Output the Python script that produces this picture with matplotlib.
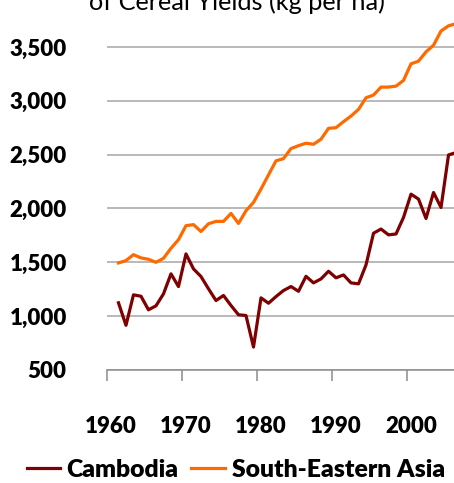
import numpy as np
import matplotlib.pyplot as plt
from matplotlib.ticker import FuncFormatter

# Cereal yields (kg per ha)
years = list(range(1961, 2007))
cambodia = [1124, 915, 1198, 1185, 1059, 1096, 1207, 1393, 1275, 1578,
            1439, 1368, 1254, 1145, 1192, 1099, 1013, 1006, 713, 1170,
            1120, 1182, 1238, 1275, 1231, 1370, 1309, 1346, 1417, 1356,
            1383, 1309, 1300, 1476, 1770, 1809, 1755, 1763, 1917, 2133,
            2087, 1907, 2148, 2009, 2497, 2519]
se_asia = [1494, 1516, 1571, 1541, 1528, 1500, 1537, 1630, 1710, 1840,
           1850, 1786, 1858, 1880, 1880, 1954, 1861, 1979, 2056, 2180,
           2312, 2442, 2463, 2556, 2583, 2606, 2596, 2643, 2744, 2750,
           2806, 2858, 2920, 3028, 3053, 3127, 3127, 3136, 3189, 3343,
           3368, 3454, 3516, 3648, 3696, 3716]
year_labels = [1960, 1970, 1980, 1990, 2000]
y_ticks = [500, 1000, 1500, 2000, 2500, 3000, 3500]

plt.rcParams['font.family'] = ['Lato', 'DejaVu Sans']

fig = plt.figure(figsize=(4.54, 4.83), dpi=100)
ax = fig.add_axes([107/454, 1 - 370/483, 1 - 107/454, (370 - 20)/483])

ax.plot(years, cambodia, color='#7f0000', lw=2.3, label='Cambodia')
ax.plot(years, se_asia, color='#ff6a00', lw=2.3, label='South-Eastern Asia')

ax.set_ylim(500, 3750)
ax.set_xlim(1959.47, 2005.73)
ax.set_yticks(y_ticks)
ax.yaxis.set_major_formatter(FuncFormatter(lambda v, p: f'{int(v):,}'))
ax.tick_params(axis='y', length=0, pad=29, labelsize=16)
for lab in ax.get_yticklabels():
    lab.set_fontweight('heavy')
ax.grid(axis='y', color='#a6a6a6', lw=1.1)
ax.set_axisbelow(True)

# tick marks sit between categories, labels at the years
ax.set_xticks([y - 0.53 for y in year_labels])
ax.set_xticklabels([])
ax.set_xticks(year_labels, minor=True)
ax.set_xticklabels([str(y) for y in year_labels], minor=True,
                   fontsize=16, fontweight='heavy')
ax.tick_params(axis='x', which='major', length=8, width=1.1, color='#8c8c8c')
ax.tick_params(axis='x', which='minor', length=0, pad=33)

for s in ['left', 'right', 'top']:
    ax.spines[s].set_visible(False)
ax.spines['bottom'].set_color('#8c8c8c')
ax.spines['bottom'].set_linewidth(1.1)

# title sits mostly above the crop, only its lower part shows
fig.text(237/454, 1 - 10/483, 'of Cereal Yields (kg per ha)', ha='center',
         va='baseline', fontsize=18.2)

leg = fig.legend(loc='center', bbox_to_anchor=(0.519, 1 - 470/483), ncol=2,
                 frameon=False, handlelength=1.36, columnspacing=0.52,
                 handletextpad=0.26, prop={'size': 17.8, 'weight': 'heavy'})

fig.savefig('out.png', dpi=100)
